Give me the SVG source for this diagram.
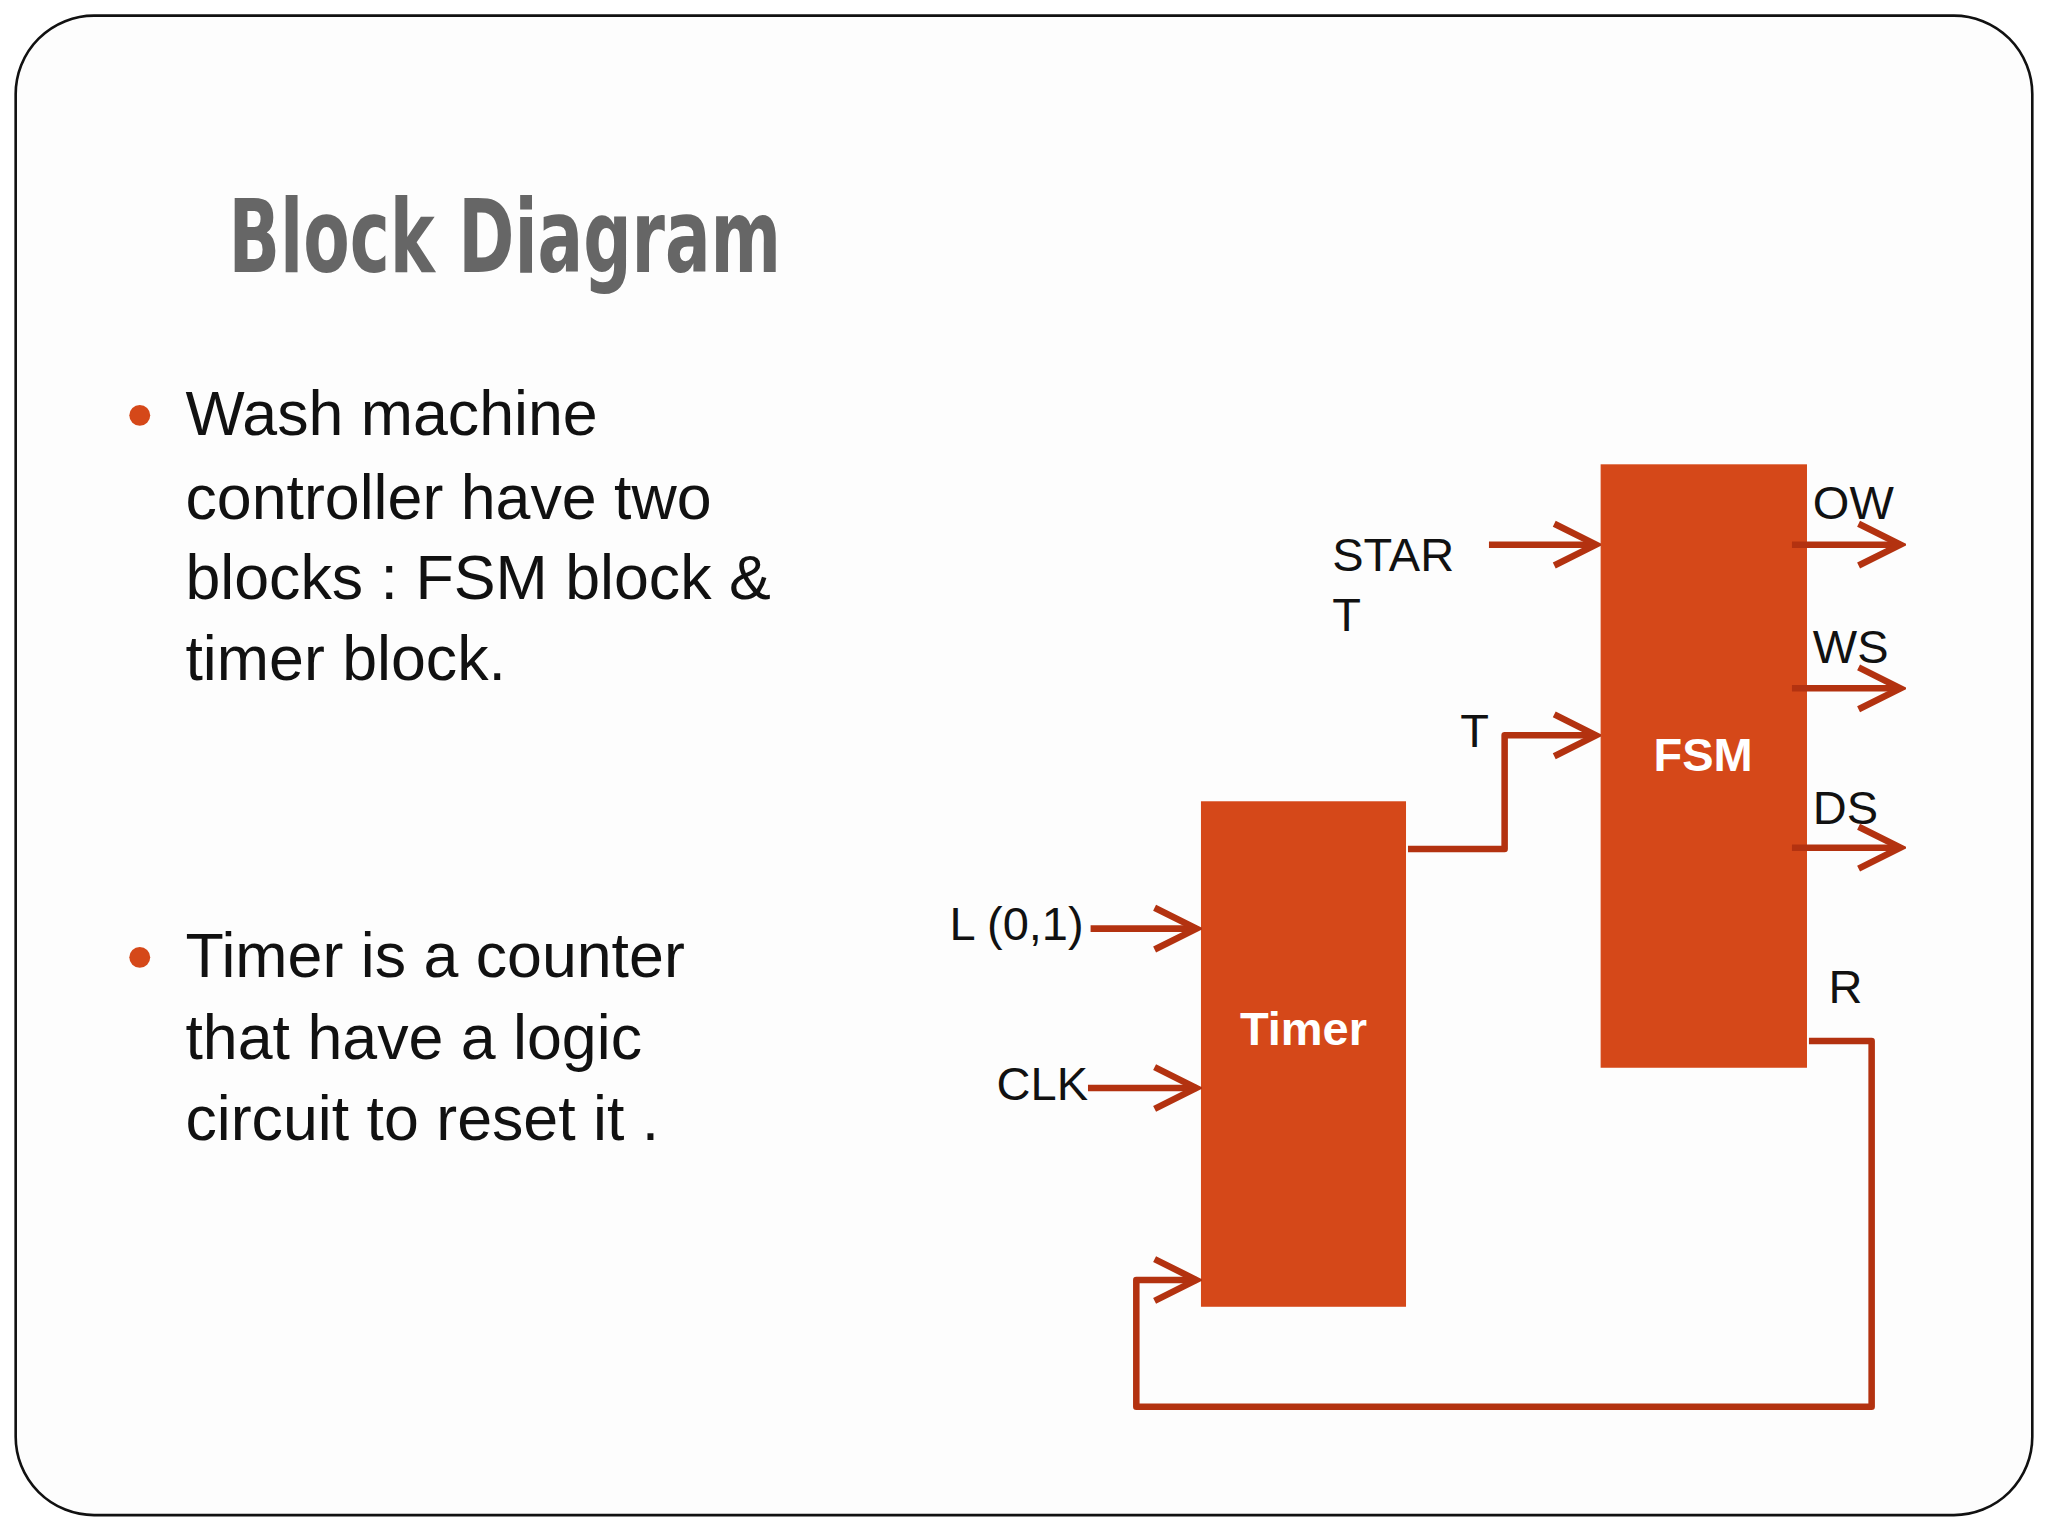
<svg xmlns="http://www.w3.org/2000/svg" width="2048" height="1536" viewBox="0 0 2048 1536">
<defs>
<style>
.w{fill:none;stroke:#B33210;stroke-width:5;stroke-linejoin:round}
.lb{font-family:"Liberation Sans",Arial,sans-serif;font-size:36px;fill:#111}
.bt{font-family:"Liberation Sans",Arial,sans-serif;font-size:48px;fill:#111}
.bl{fill:#D54819;stroke:#D54819}
.bn{font-family:"Liberation Sans",Arial,sans-serif;font-weight:bold;font-size:36px;fill:#fff;text-anchor:middle}
</style>
<marker id="a" markerUnits="userSpaceOnUse" markerWidth="40" markerHeight="40" refX="36" refY="20" orient="auto" viewBox="0 0 40 40">
<polyline points="4,4 36,20 4,36" fill="none" stroke="#B33210" stroke-width="5"/>
</marker>
</defs>
<rect width="2048" height="1536" fill="#fff"/>
<g transform="scale(1.3061)">
<rect x="12" y="12" width="1544" height="1148" rx="60" fill="#fdfdfd" stroke="#111" stroke-width="2"/>
<text x="175" y="208" font-family="'DejaVu Sans Condensed','DejaVu Sans',sans-serif" font-weight="bold" font-size="78" fill="#666" textLength="423" lengthAdjust="spacingAndGlyphs">Block Diagram</text>
<circle cx="107" cy="318" r="8" fill="#D54819"/>
<circle cx="107" cy="733" r="8" fill="#D54819"/>
<text class="bt" x="142" y="333">Wash machine</text>
<text class="bt" x="142" y="397">controller have two</text>
<text class="bt" x="142" y="459">blocks : FSM block &amp;</text>
<text class="bt" x="142" y="521">timer block.</text>
<text class="bt" x="142" y="748">Timer is a counter</text>
<text class="bt" x="142" y="811">that have a logic</text>
<text class="bt" x="142" y="873">circuit to reset it .</text>
<g id="fsm"><rect class="bl" x="1226" y="356" width="157" height="461"/><text class="bn" x="1304" y="590">FSM</text></g>
<g id="timer"><rect class="bl" x="920" y="614" width="156" height="386"/><text class="bn" x="998" y="800">Timer</text></g>
<g id="labels">
<text class="lb" x="1020" y="437">STAR</text>
<text class="lb" x="1020" y="483">T</text>
<text class="lb" x="1118" y="572">T</text>
<text class="lb" x="1388" y="397">OW</text>
<text class="lb" x="1388" y="508">WS</text>
<text class="lb" x="1388" y="631">DS</text>
<text class="lb" x="1400" y="768">R</text>
<text class="lb" x="727" y="720">L (0,1)</text>
<text class="lb" x="763" y="842">CLK</text>
</g>
<g id="connectors">
<line class="w" x1="1140" y1="417" x2="1222" y2="417" marker-end="url(#a)"/>
<polyline class="w" points="1078,650 1152,650 1152,563 1222,563" marker-end="url(#a)"/>
<line class="w" x1="1372" y1="417" x2="1455" y2="417" marker-end="url(#a)"/>
<line class="w" x1="1372" y1="527" x2="1455" y2="527" marker-end="url(#a)"/>
<line class="w" x1="1372" y1="649" x2="1455" y2="649" marker-end="url(#a)"/>
<polyline class="w" points="1385,797 1433,797 1433,1077 870,1077 870,980 916,980" marker-end="url(#a)"/>
<line class="w" x1="835" y1="711" x2="916" y2="711" marker-end="url(#a)"/>
<line class="w" x1="833" y1="833" x2="916" y2="833" marker-end="url(#a)"/>
</g>
</g>
</svg>
